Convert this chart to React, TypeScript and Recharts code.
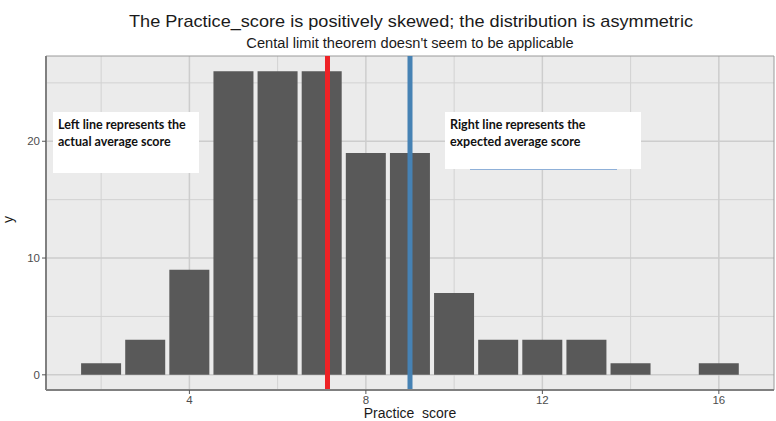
import React from 'react';
import {
  ComposedChart,
  Bar,
  XAxis,
  YAxis,
  CartesianGrid,
  ReferenceLine,
  ReferenceArea,
} from 'recharts';

const scores = [2, 3, 4, 5, 6, 7, 8, 9, 10, 11, 12, 13, 14, 15, 16];
const counts = [1, 3, 9, 26, 26, 26, 19, 19, 7, 3, 3, 3, 1, 0, 1];
const xTicks = [4, 8, 12, 16];
const xMinor = [2, 6, 10, 14];
const yTicks = [0, 10, 20];
const yMinor = [5, 15, 25];
const actualMean = 7.13;
const expectedMean = 9;

const xDomain: [number, number] = [0.75, 17.25];
const yDomain: [number, number] = [-1.3, 27.3];

const data = scores.map((score, i) => ({ score, count: counts[i] }));

const font = '"Liberation Sans", Arial, sans-serif';
const noteFont = 'Lato, "Open Sans", sans-serif';

const noteStyle: React.CSSProperties = {
  position: 'absolute',
  background: '#ffffff',
  fontFamily: noteFont,
  fontWeight: 700,
  fontSize: 12.5,
  lineHeight: '17px',
  color: '#111',
  boxSizing: 'border-box',
};

export default function App() {
  return (
    <div
      style={{
        position: 'absolute',
        left: 0,
        top: 0,
        width: 776,
        height: 421,
        background: '#fff',
        fontFamily: font,
      }}
    >
      <div
        style={{
          position: 'absolute',
          left: 0,
          width: 822,
          top: 12,
          textAlign: 'center',
          fontSize: 17,
          lineHeight: '20px',
          color: '#1a1a1a',
          transform: 'scaleX(1.066)',
          transformOrigin: '411px 0',
          whiteSpace: 'nowrap',
        }}
      >
        The Practice_score is positively skewed; the distribution is asymmetric
      </div>
      <div
        style={{
          position: 'absolute',
          left: 0,
          width: 820,
          top: 35,
          textAlign: 'center',
          fontSize: 14,
          lineHeight: '17px',
          color: '#1a1a1a',
          transform: 'scaleX(1.045)',
          transformOrigin: '410px 0',
          whiteSpace: 'nowrap',
        }}
      >
        Cental limit theorem doesn't seem to be applicable
      </div>
      <ComposedChart
        width={776}
        height={421}
        data={data}
        margin={{ top: 56, right: 2, bottom: 0, left: 0 }}
        style={{ position: 'absolute', left: 0, top: 0 }}
      >
        <CartesianGrid
          fill="#ebebeb"
          stroke="#d2d2d2"
          strokeWidth={1}
          verticalValues={xMinor}
          horizontalValues={yMinor}
        />
        <CartesianGrid
          stroke="#cdcdcd"
          strokeWidth={1.5}
          verticalValues={xTicks}
          horizontalValues={yTicks}
        />
        <XAxis
          dataKey="score"
          type="number"
          domain={xDomain}
          ticks={xTicks}
          allowDataOverflow
          height={31}
          tickSize={4}
          tick={{ fill: '#4d4d4d', fontSize: 11.5, fontFamily: font }}
          tickLine={{ stroke: '#555' }}
          axisLine={{ stroke: '#808080', strokeWidth: 2 }}
          label={{
            value: 'Practice\u00a0\u00a0score',
            position: 'insideBottom',
            offset: 3,
            fill: '#1a1a1a',
            fontSize: 14,
            fontFamily: font,
          }}
        />
        <YAxis
          type="number"
          domain={yDomain}
          ticks={yTicks}
          allowDataOverflow
          width={46}
          tickSize={4}
          tick={{ fill: '#4d4d4d', fontSize: 11.5, fontFamily: font }}
          tickLine={{ stroke: '#555' }}
          axisLine={{ stroke: '#808080', strokeWidth: 2 }}
          label={{
            value: 'y',
            angle: -90,
            position: 'insideLeft',
            offset: 8,
            fill: '#1a1a1a',
            fontSize: 14,
            fontFamily: font,
          }}
        />
        <Bar dataKey="count" fill="#595959" barSize={40} isAnimationActive={false} />
        <ReferenceLine x={actualMean} stroke="#ee2226" strokeWidth={5} />
        <ReferenceLine x={expectedMean} stroke="#4682b4" strokeWidth={5} />
        <ReferenceArea
          x1={xDomain[0]}
          x2={xDomain[1]}
          y1={yDomain[0]}
          y2={yDomain[1]}
          fill="none"
          stroke="#9a9a9a"
          strokeWidth={1}
        />
      </ComposedChart>
      <div style={{ ...noteStyle, left: 53, top: 112, width: 146, height: 61, padding: '4px 0 0 5px' }}>
        Left line represents the
        <br />
        actual average score
      </div>
      <div style={{ ...noteStyle, left: 445, top: 112, width: 196, height: 57, padding: '4px 0 0 5px' }}>
        Right line represents the
        <br />
        expected average score
        <div
          style={{
            position: 'absolute',
            left: 25,
            top: 57,
            width: 147,
            height: 1,
            background: '#8fb0d8',
          }}
        />
      </div>
    </div>
  );
}
